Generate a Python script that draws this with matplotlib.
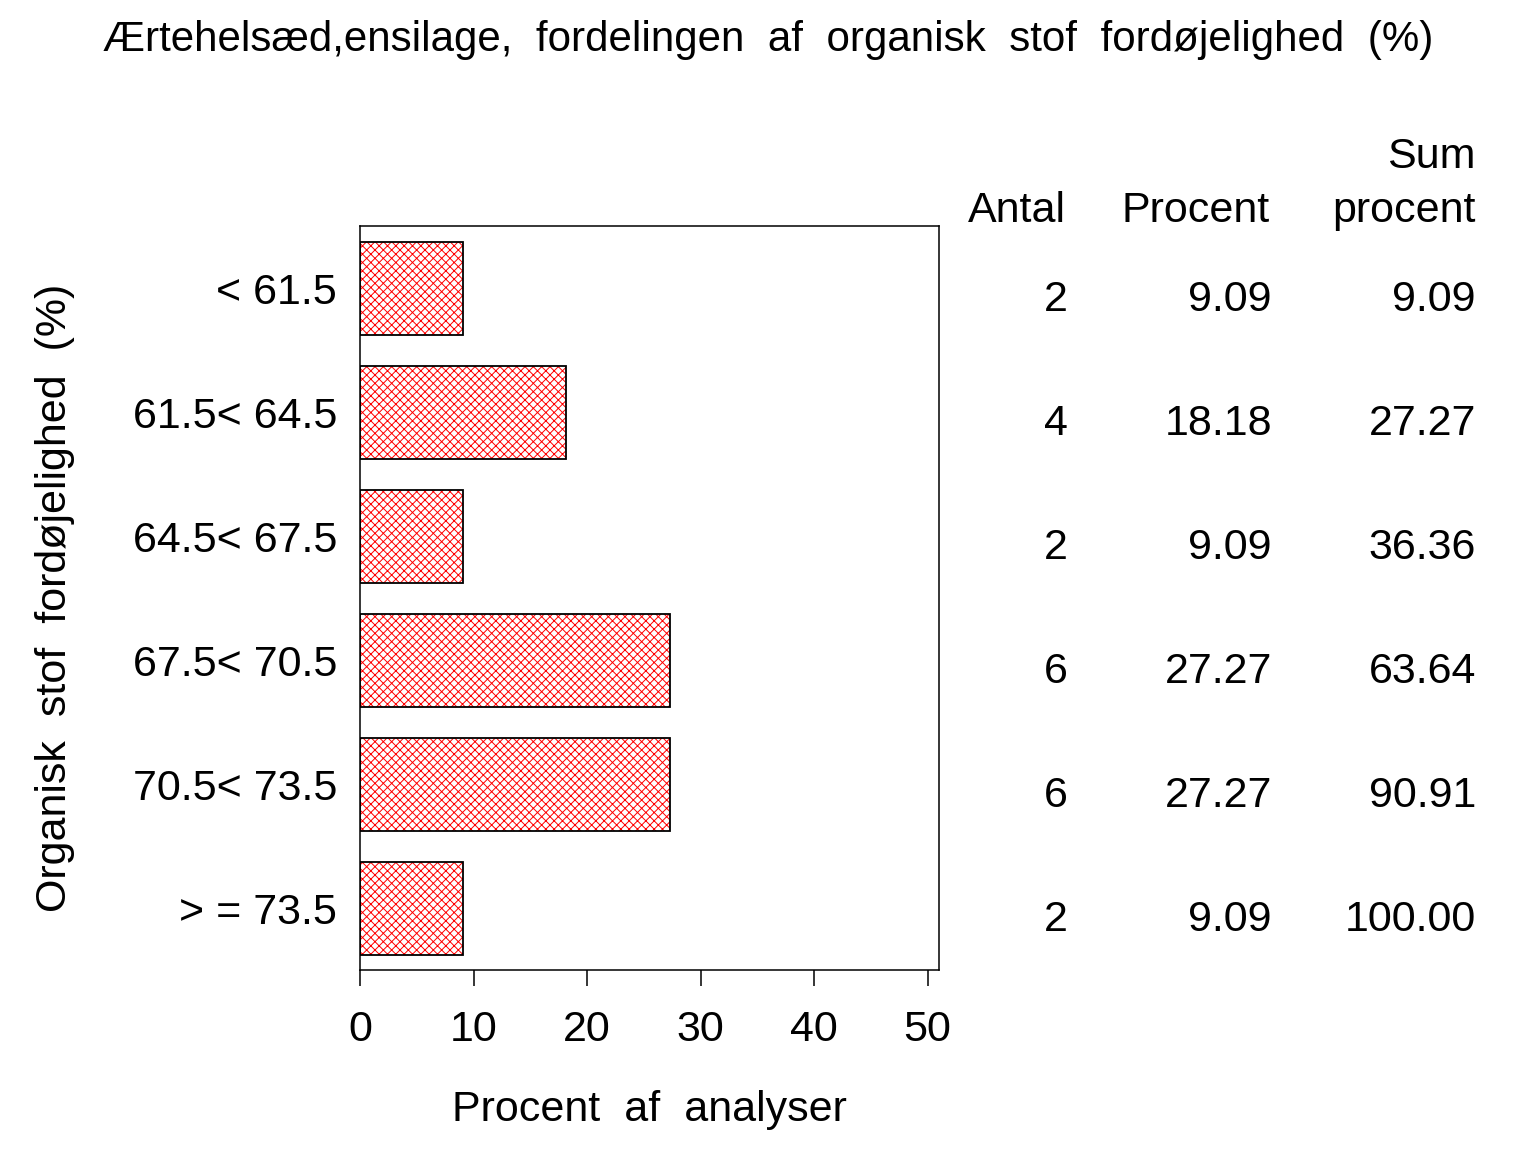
import matplotlib
matplotlib.use('Agg')
import matplotlib.pyplot as plt
from matplotlib.transforms import blended_transform_factory

categories = ['< 61.5', '61.5< 64.5', '64.5< 67.5', '67.5< 70.5', '70.5< 73.5', '> = 73.5']
antal = [2, 4, 2, 6, 6, 2]
procent = [9.09, 18.18, 9.09, 27.27, 27.27, 9.09]
sum_procent = [9.09, 27.27, 36.36, 63.64, 90.91, 100.00]
xticks = [0, 10, 20, 30, 40, 50]

title = 'Ærtehelsæd,ensilage,  fordelingen  af  organisk  stof  fordøjelighed  (%)'
xlabel = 'Procent  af  analyser'
ylabel = 'Organisk  stof  fordøjelighed  (%)'

plt.rcParams['font.family'] = ['Liberation Sans', 'DejaVu Sans']
plt.rcParams['hatch.linewidth'] = 0.7

W, H = 1536, 1152
fs = 31
fig = plt.figure(figsize=(W / 100, H / 100), dpi=100)
ax = fig.add_axes([360 / W, 1 - 970 / H, 579 / W, 744 / H])

y = list(range(len(categories)))
ax.barh(y, procent, height=0.75, color='white', edgecolor='red', hatch='xxxx', linewidth=0)
ax.barh(y, procent, height=0.75, fill=False, edgecolor='black', linewidth=1.3)
ax.set_ylim(len(categories) - 0.5, -0.5)
ax.set_xlim(0, 51)

ax.set_yticks(y, categories, fontsize=fs)
ax.tick_params(axis='y', length=0, pad=16.5)
ax.set_xticks(xticks, [str(t) for t in xticks], fontsize=fs)
ax.tick_params(axis='x', length=11.5, width=1.1, pad=17)
for s in ax.spines.values():
    s.set_linewidth(1.1)

fig.text(649.5 / W, 1 - 1110 / H, xlabel, fontsize=fs, ha='center', va='center')
fig.text(55 / W, 1 - 598 / H, ylabel, fontsize=fs, ha='center', va='center', rotation=90)
fig.text(0.5, 1 - 40 / H, title, fontsize=30.3, ha='center', va='center')

# table
col_x = [1068 / W, 1272 / W, 1476 / W]
fig.text(1066 / W, 1 - 211 / H, 'Antal', fontsize=fs, ha='right', va='center')
fig.text(1270 / W, 1 - 211 / H, 'Procent', fontsize=fs, ha='right', va='center')
fig.text(1476 / W, 1 - 211 / H, 'procent', fontsize=fs, ha='right', va='center')
fig.text(1476 / W, 1 - 157 / H, 'Sum', fontsize=fs, ha='right', va='center')

tr = blended_transform_factory(fig.transFigure, ax.transData)
for i in y:
    vals = [f'{antal[i]}', f'{procent[i]:.2f}', f'{sum_procent[i]:.2f}']
    for cx, v in zip(col_x, vals):
        ax.text(cx, i + 0.1, v, transform=tr, fontsize=fs, ha='right', va='center', clip_on=False)

fig.savefig('out.png', dpi=100)
